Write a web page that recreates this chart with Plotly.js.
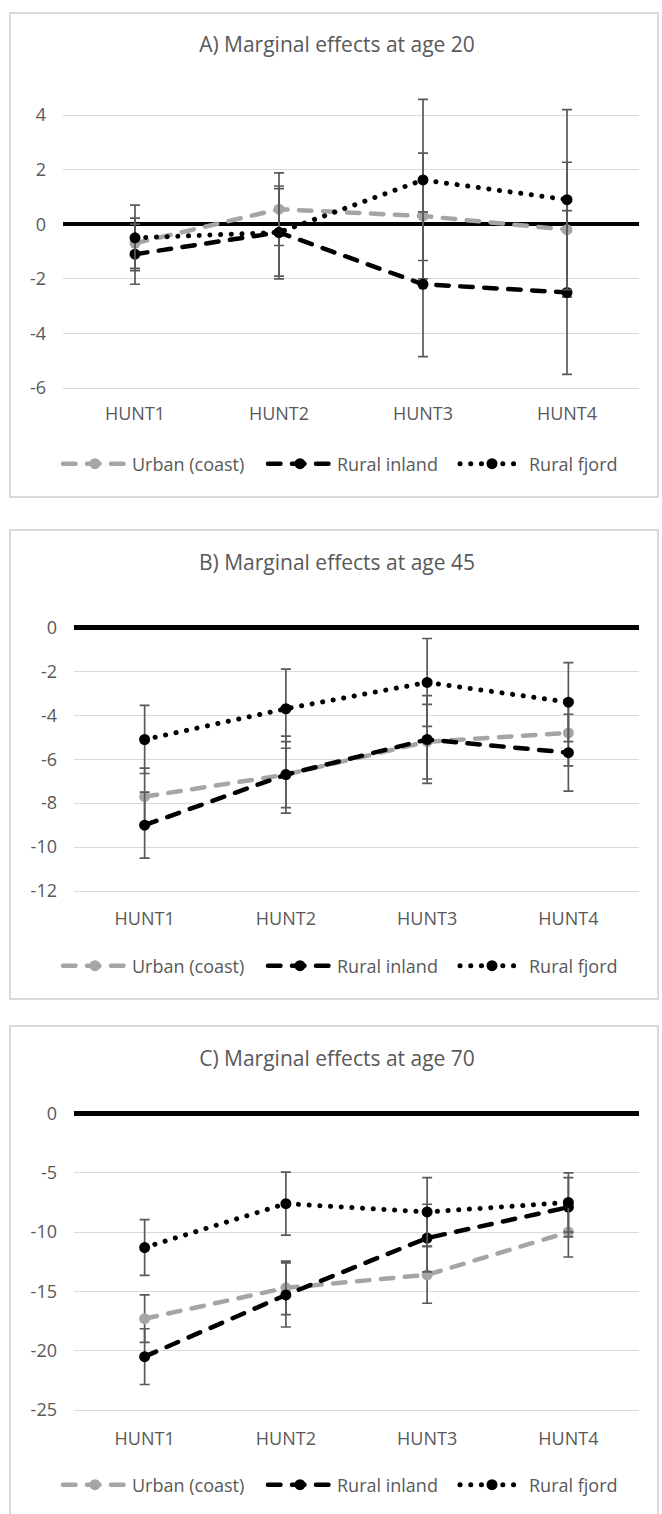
<!DOCTYPE html>
<html>
<head>
<meta charset="utf-8">
<script src="https://cdn.plot.ly/plotly-3.0.1.min.js"></script>
<style>
  html, body { margin: 0; padding: 0; background: #ffffff; }
  body { width: 662px; height: 1514px; position: relative; overflow: hidden; }
  .plot { position: absolute; left: 0; }
  .frame { position: absolute; border: 2px solid #D9D9D9; box-sizing: border-box; pointer-events: none; z-index: 5; }
  path.js-line { stroke-linecap: round; }
</style>
</head>
<body>
<div id="pA" class="plot"></div>
<div id="pB" class="plot"></div>
<div id="pC" class="plot"></div>
<div class="frame" style="left:9px; top:12px; width:650px; height:486px;"></div>
<div class="frame" style="left:9px; top:529px; width:650px; height:471px;"></div>
<div class="frame" style="left:9px; top:1025px; width:650px; height:520px;"></div>
<script>
// ---- data ----
const categories = ['HUNT1', 'HUNT2', 'HUNT3', 'HUNT4'];
const seriesNames = ['Urban (coast)', 'Rural inland', 'Rural fjord'];

const titleA = 'A) Marginal effects at age 20';
const urbanA = [-0.7, 0.55, 0.3, -0.2];
const urbanAerr = [0.92, 1.33, 2.3, 2.47];
const inlandA = [-1.1, -0.3, -2.2, -2.5];
const inlandAerr = [1.1, 1.6, 2.65, 3.0];
const fjordA = [-0.5, -0.3, 1.62, 0.9];
const fjordAerr = [1.2, 1.7, 2.95, 3.3];
const ticksA = [-6, -4, -2, 0, 2, 4];

const titleB = 'B) Marginal effects at age 45';
const urbanB = [-7.7, -6.7, -5.2, -4.8];
const urbanBerr = [1.3, 1.5, 1.7, 1.5];
const inlandB = [-9.0, -6.7, -5.1, -5.7];
const inlandBerr = [1.5, 1.75, 2.0, 1.75];
const fjordB = [-5.1, -3.7, -2.5, -3.4];
const fjordBerr = [1.55, 1.8, 2.0, 1.8];
const ticksB = [-12, -10, -8, -6, -4, -2, 0];

const titleC = 'C) Marginal effects at age 70';
const urbanC = [-17.3, -14.7, -13.6, -10.0];
const urbanCerr = [2.0, 2.25, 2.4, 2.1];
const inlandC = [-20.5, -15.3, -10.5, -7.9];
const inlandCerr = [2.35, 2.7, 2.85, 2.5];
const fjordC = [-11.3, -7.6, -8.3, -7.5];
const fjordCerr = [2.35, 2.65, 2.9, 2.5];
const ticksC = [-25, -20, -15, -10, -5, 0];

// ---- styling ----
const W = 662;
const FONT = '"Open Sans", "Noto Sans", sans-serif';
const TXT = '#595959';
const styles = [
  { color: '#A5A5A5', dash: '12.5px,11.5px', width: 4.5 },
  { color: '#000000', dash: '12.5px,11.5px', width: 4.5 },
  { color: '#000000', dash: '0.1px,10.6px', width: 5 }
];
const legendIds = ['legend', 'legend2', 'legend3'];
const legendLeftPx = [58, 263, 455];

function makeTraces(vals, errs) {
  return vals.map((v, i) => ({
    type: 'scatter',
    mode: 'lines+markers',
    name: seriesNames[i],
    legend: legendIds[i],
    x: categories,
    y: v,
    line: { color: styles[i].color, dash: styles[i].dash, width: styles[i].width },
    marker: { color: styles[i].color, size: 11, symbol: 'circle' },
    error_y: { type: 'data', array: errs[i], symmetric: true, color: '#595959', thickness: 1.7, width: 5 },
    cliponaxis: false
  }));
}

function drawPanel(id, cfg) {
  const el = document.getElementById(id);
  el.style.top = cfg.divTop + 'px';
  el.style.width = W + 'px';
  el.style.height = cfg.divH + 'px';
  const k = (cfg.p2 - cfg.p1) / (cfg.v2 - cfg.v1);
  const vAt = p => cfg.v1 + (p - cfg.p1) / k;
  const range = [vAt(cfg.plotBot), vAt(cfg.plotTop)];
  const layout = {
    width: W,
    height: cfg.divH,
    margin: { l: cfg.left, r: W - cfg.right, t: cfg.plotTop - cfg.divTop, b: cfg.divTop + cfg.divH - cfg.plotBot, pad: 0 },
    paper_bgcolor: 'rgba(0,0,0,0)',
    plot_bgcolor: 'rgba(0,0,0,0)',
    font: { family: FONT, color: TXT, size: 18 },
    title: {
      text: cfg.title,
      font: { family: FONT, size: 21, color: TXT },
      xref: 'container', x: 337 / W, xanchor: 'center',
      yref: 'container', y: (cfg.divTop + cfg.divH - cfg.titleY) / cfg.divH, yanchor: 'middle'
    },
    xaxis: {
      type: 'category',
      range: [-0.5, 3.5],
      showgrid: false, zeroline: false, showline: false, ticks: '',
      tickfont: { family: FONT, size: 18, color: TXT },
      ticklabelstandoff: 0,
      fixedrange: true
    },
    yaxis: {
      range: range,
      tickmode: 'array',
      tickvals: cfg.ticks,
      ticktext: cfg.ticks.map(String),
      showgrid: true, gridcolor: '#D9D9D9', gridwidth: 1,
      zeroline: true, zerolinecolor: '#000000', zerolinewidth: 4.5,
      showline: false, ticks: '',
      tickfont: { family: FONT, size: 18, color: TXT },
      ticklabelstandoff: 16,
      fixedrange: true
    },
    showlegend: true,
    hovermode: false
  };
  legendIds.forEach((lid, i) => {
    layout[lid] = {
      orientation: 'h',
      xref: 'container', x: legendLeftPx[i] / W, xanchor: 'left',
      yref: 'container', y: (cfg.divTop + cfg.divH - cfg.legendY) / cfg.divH, yanchor: 'middle',
      font: { family: FONT, size: 18, color: TXT },
      itemwidth: 64,
      bgcolor: 'rgba(0,0,0,0)'
    };
  });
  Plotly.newPlot(el, makeTraces(cfg.vals, cfg.errs), layout, { staticPlot: true, displayModeBar: false });
}

drawPanel('pA', {
  divTop: 0, divH: 515, left: 63, right: 639,
  v1: 4, p1: 115, v2: -6, p2: 388, plotTop: 95, plotBot: 401,
  titleY: 45, legendY: 464, title: titleA, ticks: ticksA,
  vals: [urbanA, inlandA, fjordA], errs: [urbanAerr, inlandAerr, fjordAerr]
});
drawPanel('pB', {
  divTop: 515, divH: 497, left: 74, right: 639,
  v1: 0, p1: 627.5, v2: -12, p2: 891, plotTop: 616, plotBot: 906,
  titleY: 563, legendY: 966, title: titleB, ticks: ticksB,
  vals: [urbanB, inlandB, fjordB], errs: [urbanBerr, inlandBerr, fjordBerr]
});
drawPanel('pC', {
  divTop: 1012, divH: 502, left: 74, right: 639,
  v1: 0, p1: 1113.5, v2: -25, p2: 1410, plotTop: 1104, plotBot: 1426,
  titleY: 1059, legendY: 1485, title: titleC, ticks: ticksC,
  vals: [urbanC, inlandC, fjordC], errs: [urbanCerr, inlandCerr, fjordCerr]
});
</script>
</body>
</html>
